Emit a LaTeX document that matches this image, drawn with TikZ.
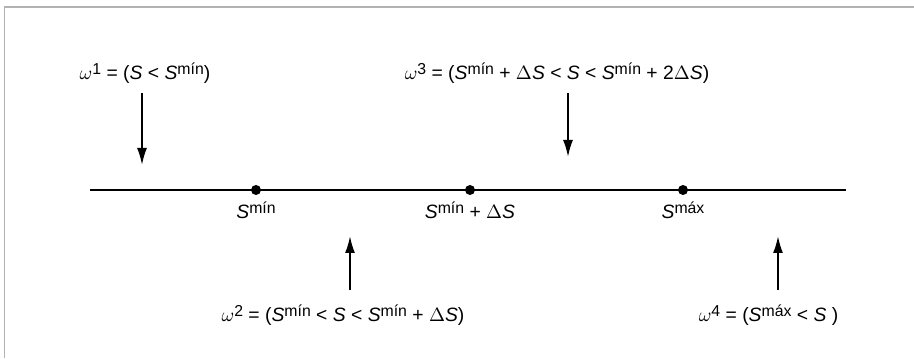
\documentclass[tikz,border=0pt]{standalone}
\usepackage{fontspec}
\setmainfont{Liberation Sans}
\usetikzlibrary{arrows.meta}
\newcommand{\hi}[1]{\raisebox{0.55ex}{\small #1}}
\newcommand{\vS}{\textit{S}}
\begin{document}
\begin{tikzpicture}[
    arr/.style={-{Latex[length=3.4mm,width=2mm]}, line width=1.1pt},
    pt/.style={circle, fill, inner sep=0pt, minimum size=2mm},
    lbl/.style={anchor=base, font=\fontsize{11}{13}\selectfont, inner sep=0pt}
  ]
    \useasboundingbox (0,0) rectangle (18.28,7.16);
    % Marco
    \draw[gray!60, line width=1.1pt] (0.09,0) -- (0.09,7.02) -- (18.28,7.02);
    % Eje
    \coordinate (ejeA) at (1.8,3.36);
    \coordinate (ejeB) at (16.92,3.36);
    \draw[line width=0.8pt] (ejeA) -- (ejeB);
    \node[pt] (smin) at (5.12,3.36) {};
    \node[pt] (smid) at (9.4,3.36) {};
    \node[pt] (smax) at (13.66,3.36) {};
    \node[lbl] (lmin) at (5.12,2.78) {\vS\hi{mín}};
    \node[lbl] (lmid) at (9.4,2.78) {\vS\hi{mín} + $\Delta$\vS};
    \node[lbl] (lmax) at (13.66,2.78) {\vS\hi{máx}};
    % Intervalos
    \node[lbl] (w1) at (2.9,5.56) {$\omega$\hi{1} = (\vS{} < \vS\hi{mín})};
    \node[lbl] (w3) at (11.14,5.56) {$\omega$\hi{3} = (\vS\hi{mín} + $\Delta$\vS{} < \vS{} < \vS\hi{mín} + 2$\Delta$\vS)};
    \node[lbl] (w2) at (6.86,0.72) {$\omega$\hi{2} = (\vS\hi{mín} < \vS{} < \vS\hi{mín} + $\Delta$\vS)};
    \node[lbl] (w4) at (15.37,0.72) {$\omega$\hi{4} = (\vS\hi{máx} < \vS{} )};
    % Flechas
    \coordinate (a1s) at (2.84,5.3);
    \coordinate (a1e) at (2.84,3.86);
    \coordinate (a3s) at (11.36,5.3);
    \coordinate (a3e) at (11.36,4.02);
    \coordinate (a2s) at (7.0,1.36);
    \coordinate (a2e) at (7.0,2.44);
    \coordinate (a4s) at (15.56,1.36);
    \coordinate (a4e) at (15.56,2.44);
    \draw[arr] (a1s) -- (a1e);
    \draw[arr] (a3s) -- (a3e);
    \draw[arr] (a2s) -- (a2e);
    \draw[arr] (a4s) -- (a4e);
\end{tikzpicture}
\end{document}
